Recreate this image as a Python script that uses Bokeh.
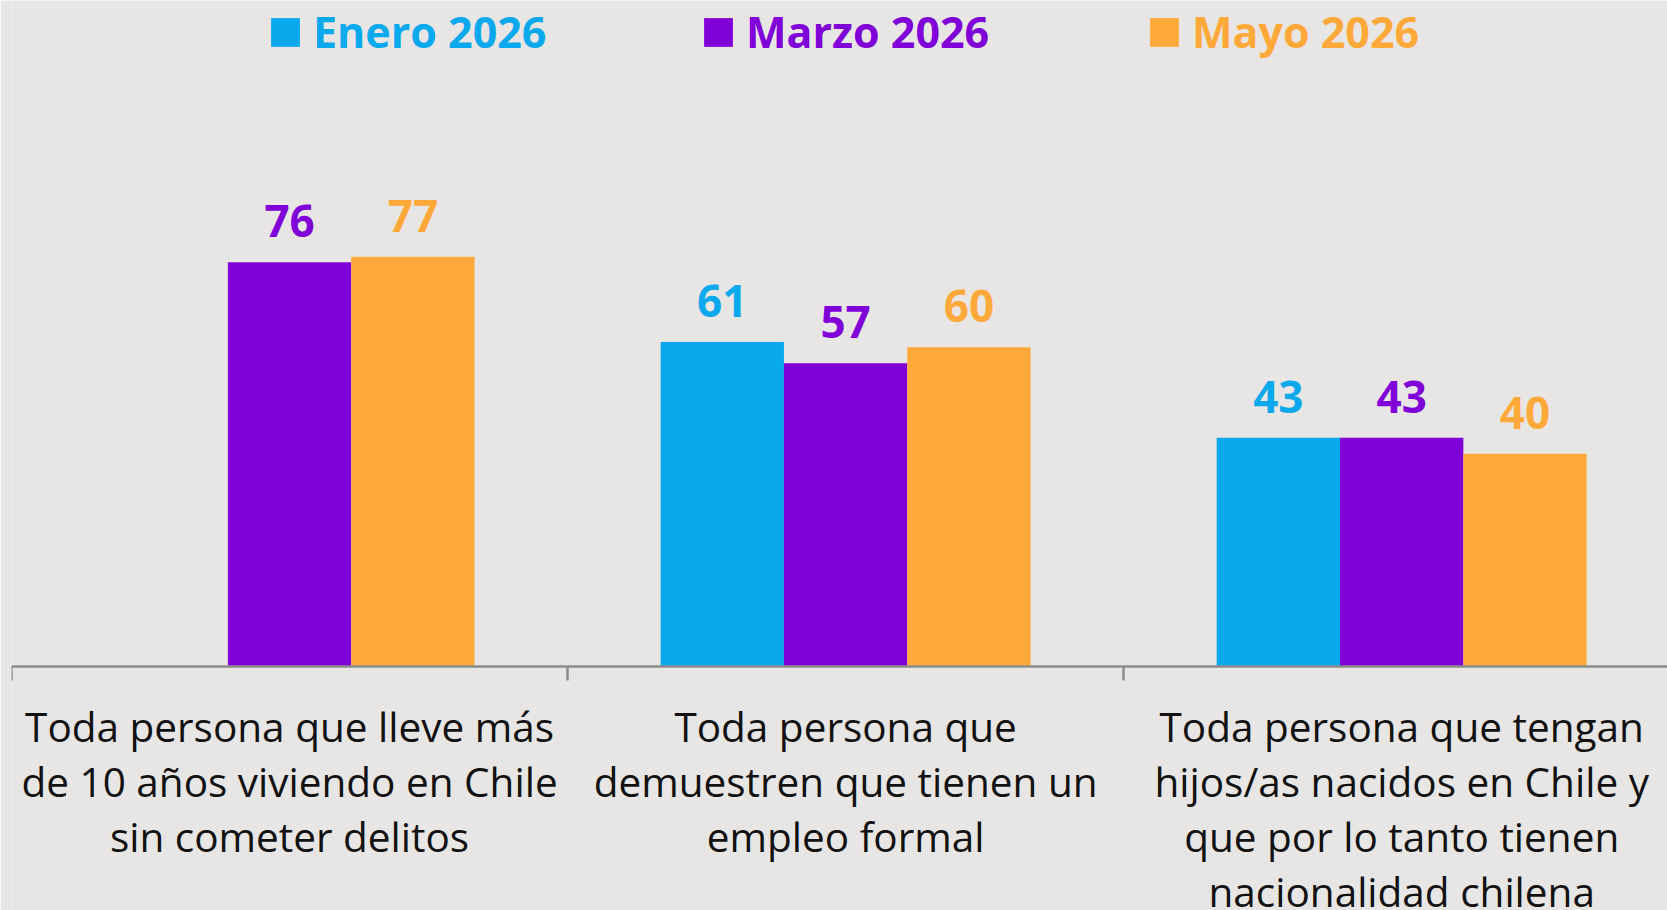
from bokeh.plotting import figure
from bokeh.models import (ColumnDataSource, LabelSet, Legend, LegendItem,
                          LinearAxis, FixedTicker, Range1d)
from bokeh.core.properties import value
from bokeh.transform import dodge
from bokeh.embed import file_html
from bokeh.resources import INLINE

# ---------------- data ----------------
categories = [
    "Toda persona que lleve más\nde 10 años viviendo en Chile\nsin cometer delitos",
    "Toda persona que\ndemuestren que tienen un\nempleo formal",
    "Toda persona que tengan\nhijos/as nacidos en Chile y\nque por lo tanto tienen\nnacionalidad chilena",
]
series_names = ["Enero 2026", "Marzo 2026", "Mayo 2026"]
enero = [None, 61, 43]
marzo = [76, 57, 43]
mayo = [77, 60, 40]

# ---------------- style ----------------
BG = "#E8E6E4"
COLORS = ["#0AA8EC", "#8000D8", "#FFA93A"]
AXIS_GRAY = "#8C8C8C"
FONT = "Open Sans"
BAR_W = 0.2218
BOUNDARY_TICKS = [-0.5, 0.5, 1.5, 2.5]

W, H = 1667, 910
p = figure(width=W, height=H,
           x_range=Range1d(-0.5, 2.478), y_range=Range1d(-45.86, 125.19),
           output_backend="svg", toolbar_location=None,
           x_axis_location=None, y_axis_location=None,
           min_border_left=11, min_border_right=0, min_border_top=0,
           min_border_bottom=0,
           background_fill_color=BG, border_fill_color=BG,
           outline_line_color=None)
p.grid.visible = False

ax = LinearAxis(ticker=FixedTicker(ticks=BOUNDARY_TICKS),
                fixed_location=0,
                axis_line_color=AXIS_GRAY, axis_line_width=2.5,
                major_tick_line_color=AXIS_GRAY, major_tick_line_width=2.5,
                major_tick_in=0, major_tick_out=14,
                minor_tick_line_color=None,
                major_label_overrides={t: "" for t in BOUNDARY_TICKS},
                major_label_standoff=0)
p.add_layout(ax, "below")

xs = list(range(len(categories)))
all_vals = [enero, marzo, mayo]
offsets = [-BAR_W, 0.0, BAR_W]
legend_locs = [(256, 849), (689, 849), (1135, 849)]

for name, vals, color, off, loc in zip(series_names, all_vals, COLORS, offsets, legend_locs):
    idx = [i for i, v in enumerate(vals) if v is not None]
    src = ColumnDataSource(dict(
        x=[xs[i] for i in idx],
        top=[vals[i] for i in idx],
        txt=[str(vals[i]) for i in idx],
    ))
    r = p.vbar(x=dodge("x", off), top="top", bottom=0, width=BAR_W, source=src,
               fill_color=color, line_color=None)
    p.add_layout(LabelSet(x=dodge("x", off), y="top", text="txt", source=src,
                          y_offset=25, text_align="center",
                          text_baseline="alphabetic",
                          text_font=value(FONT), text_font_style="bold",
                          text_font_size="44px", text_color=color))
    leg = Legend(items=[LegendItem(label=name, renderers=[r])],
                 location=loc, orientation="horizontal",
                 glyph_width=36, glyph_height=36, label_standoff=10,
                 label_height=36,
                 label_text_font=FONT, label_text_font_style="bold",
                 label_text_font_size="43px", label_text_color=color,
                 border_line_color=None, background_fill_alpha=0,
                 padding=0, margin=0, spacing=0)
    p.add_layout(leg)

cat_src = ColumnDataSource(dict(x=xs, y=[0] * len(xs), label=categories))
p.text(x="x", y="y", text="label", source=cat_src,
       y_offset=32, text_align="center", text_baseline="top",
       text_font=value(FONT), text_font_size="40.5px",
       text_line_height=1.0, text_color="#111111")

html = file_html(p, INLINE)
open("out.html", "w").write(html)
